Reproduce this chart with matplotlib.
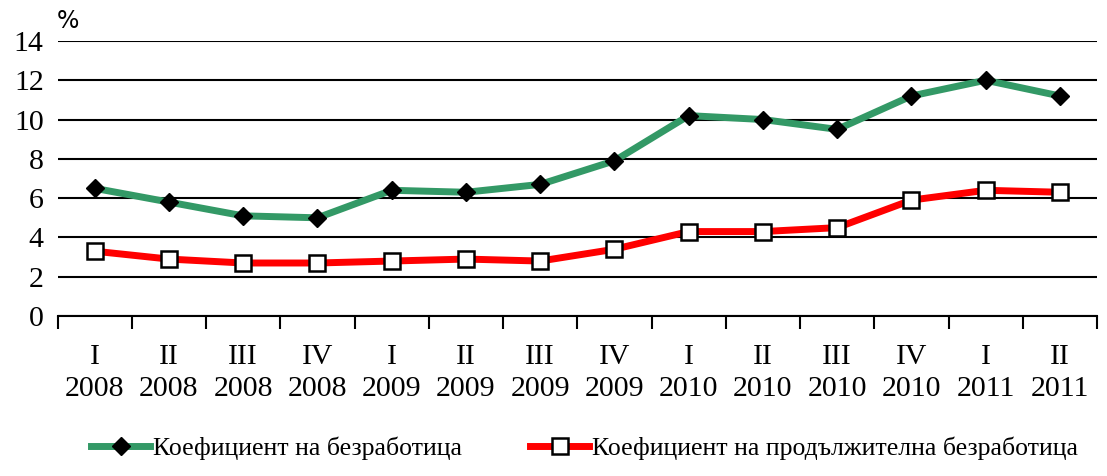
import matplotlib
matplotlib.use("Agg")
import matplotlib.pyplot as plt
import numpy as np

quarters = ['I', 'II', 'III', 'IV', 'I', 'II', 'III', 'IV', 'I', 'II', 'III', 'IV', 'I', 'II']
years = ['2008'] * 4 + ['2009'] * 4 + ['2010'] * 4 + ['2011'] * 2
unemp = [6.5, 5.8, 5.1, 5.0, 6.4, 6.3, 6.7, 7.9, 10.2, 10.0, 9.5, 11.2, 12.0, 11.2]
long_unemp = [3.3, 2.9, 2.7, 2.7, 2.8, 2.9, 2.8, 3.4, 4.3, 4.3, 4.5, 5.9, 6.4, 6.3]
labels = ['Коефициент на безработица', 'Коефициент на продължителна безработица']

plt.rcParams['font.family'] = ['Liberation Serif', 'DejaVu Serif']

fig = plt.figure(figsize=(11.07, 4.76), dpi=100)
ax = fig.add_axes([0.052, 0.336, 0.939, 0.578])

x = np.arange(len(unemp))
ax.plot(x, unemp, color='#339966', lw=5, marker='D', ms=9,
        mfc='black', mec='black', label=labels[0], zorder=3)
ax.plot(x, long_unemp, color='#ff0000', lw=5, marker='s', ms=11,
        mfc='white', mec='black', mew=1.8, label=labels[1], zorder=3)

ax.set_xlim(-0.5, len(x) - 0.5)
ax.set_ylim(0, 14)
ax.set_yticks(range(0, 15, 2))
ax.yaxis.grid(True, color='black', lw=1.5)
ax.set_axisbelow(True)
for s in ['left', 'right', 'top']:
    ax.spines[s].set_visible(False)
ax.spines['bottom'].set_linewidth(1.5)
ax.tick_params(axis='y', length=0, labelsize=21.5, pad=10)

# category labels between boundary ticks, like the original
ax.set_xticks(np.arange(-0.5, len(x), 1))
ax.set_xticklabels([])
ax.tick_params(axis='x', which='major', direction='out', length=9, width=1.5)
ax.set_xticks(x, minor=True)
ax.set_xticklabels([q + '\n' + y for q, y in zip(quarters, years)], minor=True)
ax.tick_params(axis='x', which='minor', length=0, labelsize=21.5, pad=20)
for t in ax.get_xticklabels(minor=True):
    t.set_linespacing(1.3)

fig.text(0.051, 0.955, '%', fontsize=17, family='DejaVu Sans', ha='left', va='center')

fig.legend(loc='lower center', bbox_to_anchor=(0.528, -0.015), ncol=2, frameon=False,
           fontsize=18.5, handlelength=2.3, columnspacing=2.65, handletextpad=0.1)

fig.savefig('out.png', dpi=100)
